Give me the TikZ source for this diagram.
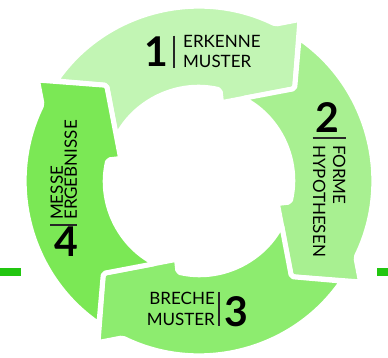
\documentclass[tikz,border=0pt]{standalone}
\usepackage{fontspec}
\setmainfont{Lato}
\usepackage{xcolor}
\definecolor{leafA}{HTML}{C2F5B4}
\definecolor{leafB}{HTML}{A8F091}
\definecolor{leafC}{HTML}{8DEC6F}
\definecolor{leafD}{HTML}{7BE855}
\definecolor{bar}{HTML}{22C610}
\tikzset{
	ringarrow/.style={draw=white,line width=5pt,line join=round,rounded corners=2pt},
	stepnum/.style={inner sep=0pt,font=\fontsize{41}{41}\selectfont\bfseries},
	steptext/.style={inner sep=0pt,font=\fontsize{17}{20}\selectfont},
	divider/.style={line width=1.2pt,black!85}
}

\begin{document}
\begin{tikzpicture}[x=1pt,y=1pt]
	\useasboundingbox (-199,-177) rectangle (189,181);
	\fill [bar] (-199,-95) rectangle (-178,-87);
	\fill [bar] (178,-95) rectangle (189,-87);
	%
	\draw [ringarrow,fill=leafA] (145:174.5) arc [start angle=145,end angle=64,radius=174.5] -- (58:190.5) -- (44:133) -- (74:81.5) -- (77:93.5) arc [start angle=77,end angle=152,radius=93.5] -- (134:133) -- cycle;
	\draw [ringarrow,fill=leafB] (55:174.5) arc [start angle=55,end angle=-26,radius=174.5] -- (-32:190.5) -- (-46:133) -- (-16:81.5) -- (-13:93.5) arc [start angle=-13,end angle=62,radius=93.5] -- (44:133) -- cycle;
	\draw [ringarrow,fill=leafC] (-35:174.5) arc [start angle=-35,end angle=-116,radius=174.5] -- (-122:190.5) -- (-136:133) -- (-106:81.5) -- (-103:93.5) arc [start angle=-103,end angle=-28,radius=93.5] -- (-46:133) -- cycle;
	\draw [ringarrow,fill=leafD] (235:174.5) arc [start angle=235,end angle=154,radius=174.5] -- (148:190.5) -- (134:133) -- (164:81.5) -- (167:93.5) arc [start angle=167,end angle=242,radius=93.5] -- (224:133) -- cycle;
	%
	\node [stepnum,anchor=base east] (num1) at (-31,114) {1};
	\node [steptext,align=left,anchor=base west] (erkenne) at (-16,113) {ERKENNE\\MUSTER};
	\draw [divider] ([xshift=-9]erkenne.north west) -- ([xshift=-9]erkenne.south west);
	%
	\node [stepnum,anchor=base] (num2) at (128,48) {2};
	\node [steptext,align=left,rotate=-90,anchor=base west] (forme) at (114,36) {FORME\\HYPOTHESEN};
	\draw [divider] ([yshift=7]forme.south west) -- ([yshift=7]forme.north west);
	%
	\node [steptext,align=right,anchor=base east] (breche) at (16,-145) {BRECHE\\[1pt]MUSTER};
	\node [stepnum,anchor=base west] (num3) at (25,-146) {3};
	\draw [divider] ([xshift=4]breche.north east) -- ([xshift=4]breche.south east);
	%
	\node [stepnum,anchor=base] (num4) at (-133,-76) {4};
	\node [steptext,align=left,rotate=90,anchor=base west] (messe) at (-122,-39) {MESSE\\[-6pt]ERGEBNISSE};
	\draw [divider] ([yshift=-5]messe.north west) -- ([yshift=-5]messe.south west);
\end{tikzpicture}
\end{document}
